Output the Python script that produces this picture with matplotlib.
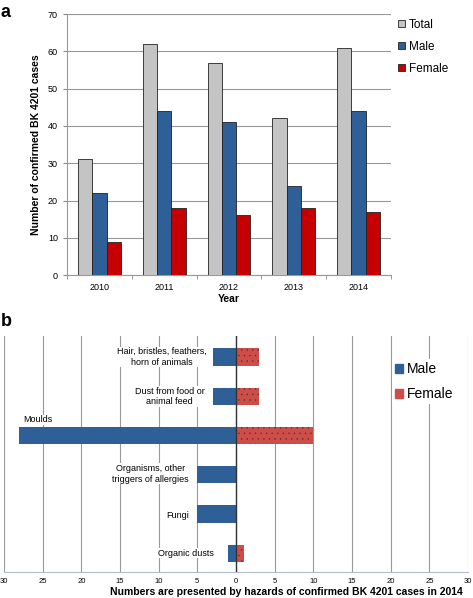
import numpy as np
import matplotlib
matplotlib.use("Agg")
import matplotlib.pyplot as plt
from matplotlib.patches import Patch

plt.rcParams['font.family'] = ['Liberation Sans', 'DejaVu Sans']
plt.rcParams['hatch.linewidth'] = 0.2

# panel a data
years = ['2010', '2011', '2012', '2013', '2014']
total = [31, 62, 57, 42, 61]
male = [22, 44, 41, 24, 44]
female = [9, 18, 16, 18, 17]

# panel b data (2014 hazards)
hazards = ['Hair, bristles, feathers,\nhorn of animals', 'Dust from food or\nanimal feed', 'Moulds',
           'Organisms, other\ntriggers of allergies', 'Fungi', 'Organic dusts']
hz_male = [3, 3, 28, 5, 5, 1]
hz_female = [3, 3, 10, 0, 0, 1]
b_ticks = [30, 25, 20, 15, 10, 5, 0, 5, 10, 15, 20, 25, 30]

fig = plt.figure(figsize=(4.73, 5.98), dpi=100)

# ---- panel a ----
ax1 = fig.add_axes([0.1416, 0.540, 0.685, 0.4365])
x = np.arange(len(years))
w = 0.22
ax1.bar(x - w, total, w, color='#c4c4c4', edgecolor='#222222', linewidth=0.6, label='Total', zorder=3)
ax1.bar(x, male, w, color='#2f5f97', edgecolor='#222222', linewidth=0.6, label='Male', zorder=3)
ax1.bar(x + w, female, w, color='#c60000', edgecolor='#222222', linewidth=0.6, label='Female', zorder=3)
ax1.set_xlim(-0.5, 4.5)
ax1.set_ylim(0, 70)
ax1.set_yticks(range(0, 71, 10))
ax1.set_xticks(x)
ax1.set_xticklabels(years)
ax1.set_xticks(np.arange(-0.5, 4.6, 1), minor=True)
ax1.tick_params(axis='x', which='major', length=0, labelsize=6.5, pad=6)
ax1.tick_params(axis='x', which='minor', length=3, color='#888888')
ax1.tick_params(axis='y', length=3, color='#888888', labelsize=6.5)
ax1.grid(axis='y', color='#999999', linewidth=0.8, zorder=0)
for s in ['top', 'right']:
    ax1.spines[s].set_visible(False)
ax1.spines['left'].set_color('#999999')
ax1.spines['bottom'].set_color('#999999')
ax1.set_ylabel('Number of confirmed BK 4201 cases', fontsize=7.5, fontweight='bold', labelpad=5)
ax1.set_xlabel('Year', fontsize=7.5, fontweight='bold', labelpad=1)
ax1.legend(loc='upper left', bbox_to_anchor=(1.0, 1.01), frameon=False, fontsize=8.5,
           handlelength=0.6, handleheight=0.6, handletextpad=0.3, labelspacing=0.85, borderaxespad=0.2)
fig.text(0.002, 0.993, 'a', fontsize=13, fontweight='bold', va='top')

# ---- panel b ----
ax2 = fig.add_axes([0.0085, 0.0435, 0.981, 0.395])
y = np.arange(len(hazards))
h = 0.44
ax2.barh(y, [-v for v in hz_male], h, color='#2f5f97', zorder=3)
ax2.barh(y, hz_female, h, facecolor='#cf4d48', hatch='...', edgecolor='#333333', linewidth=0, zorder=3)
ax2.axvline(0, color='#333333', linewidth=1.0, zorder=4)
ax2.set_xlim(-30, 30)
ax2.set_ylim(5.48, -0.54)
ax2.set_xticks(range(-30, 31, 5))
ax2.set_xticklabels([str(t) for t in b_ticks])
ax2.set_yticks([])
ax2.grid(axis='x', color='#999999', linewidth=0.8, zorder=0)
ax2.tick_params(axis='x', length=0, labelsize=5.5, pad=4)
for s in ['top', 'right', 'left']:
    ax2.spines[s].set_visible(False)
ax2.spines['bottom'].set_color('#b4bccc')
ax2.set_xlabel('Numbers are presented by hazards of confirmed BK 4201 cases in 2014',
               fontsize=7.5, fontweight='bold', loc='right', labelpad=2)
ax2.xaxis.label.set_x(0.988)

box = dict(facecolor='white', edgecolor='none', pad=0.5)
lab_pos = [(-3.8, 0, 'right'), (-4.1, 1, 'right'), (-27.5, 1.6, 'left'),
           (-6.1, 2.98, 'right'), (-6.1, 4.05, 'right'), (-2.8, 5.0, 'right')]
for name, (lx, ly, ha) in zip(hazards, lab_pos):
    ax2.text(lx, ly, name, ha=ha, va='center', fontsize=6.5, multialignment='center',
             bbox=box, zorder=5)

handles = [Patch(color='#2f5f97', label='Male'), Patch(color='#cf4d48', label='Female')]
ax2.legend(handles=handles, loc='upper right', bbox_to_anchor=(0.99, 0.93), frameon=True,
           facecolor='white', edgecolor='none', framealpha=1, fontsize=10,
           handlelength=0.6, handleheight=0.6, handletextpad=0.3, labelspacing=0.8, borderpad=0.2)
fig.text(0.002, 0.477, 'b', fontsize=13, fontweight='bold', va='top')

fig.savefig('out.png', dpi=100)
